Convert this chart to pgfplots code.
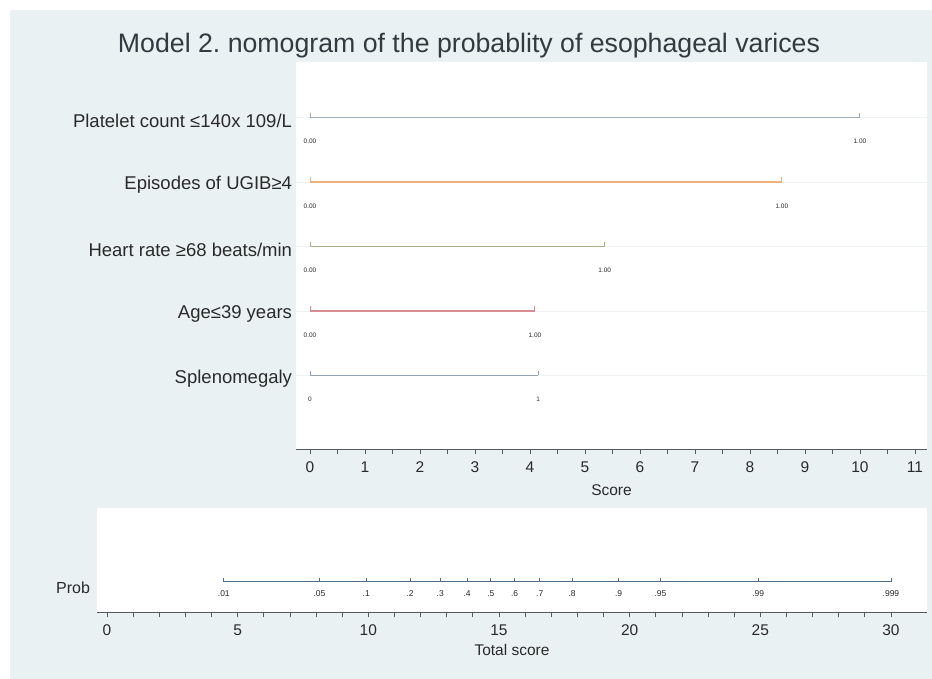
\documentclass[border=0pt]{standalone}
\usepackage{fontspec}
\setmainfont{Liberation Sans}
\usepackage{pgfplots}
\pgfplotsset{compat=1.18}
\frenchspacing
\definecolor{bg}{HTML}{EAF1F3}
\definecolor{titlec}{HTML}{333A40}
\definecolor{labc}{HTML}{2A2A2A}
\definecolor{axc}{HTML}{555A5E}
\definecolor{gridc}{HTML}{EEF2F4}
\definecolor{c1}{HTML}{9DAEBA}
\definecolor{c2}{HTML}{F2B07C}
\definecolor{c3}{HTML}{A7B087}
\definecolor{c4}{HTML}{D98A92}
\definecolor{c5}{HTML}{93A2B7}
\definecolor{probc}{HTML}{4F6E8C}
\pgfdeclareplotmark{uptick}{\pgfpathmoveto{\pgfpoint{0pt}{0pt}}\pgfpathlineto{\pgfpoint{0pt}{\pgfplotmarksize}}\pgfusepathqstroke}
\pgfplotsset{
  nomo/.style={line width=1.5bp, mark=uptick, mark size=4.5bp, mark options={line width=0.9bp, solid},
    nodes near coords, point meta=explicit symbolic,
    every node near coord/.append style={anchor=center, yshift=-24bp, font=\fontsize{6.5bp}{7bp}\selectfont, text=labc}},
}
\begin{document}
\begin{tikzpicture}
\fill[white] (0bp,0bp) rectangle (932bp,679bp);
\fill[bg] (10bp,0bp) rectangle (932bp,669bp);
\node[font=\fontsize{26.7bp}{30bp}\selectfont, text=titlec] at (469bp,633bp) {Model 2. nomogram of the probablity of esophageal varices};
\begin{axis}[at={(296bp,230bp)}, anchor=south west, scale only axis, width=631bp, height=387bp,
  xmin=-0.255, xmax=11.22, ymin=-0.14, ymax=5.86,
  axis background/.style={fill=white},
  separate axis lines, axis x line=bottom, axis y line=left,
  x axis line style={-, draw=axc, line width=0.8bp}, y axis line style={draw=none},
  xtick={0,...,11}, minor x tick num=1, xtick align=outside,
  major tick length=5bp, minor tick length=5bp,
  xtick style={draw=axc, line width=0.7bp},
  ytick={1,...,5},
  yticklabels={Splenomegaly, Age≤39 years, Heart rate ≥68 beats/min, Episodes of UGIB≥4, Platelet count ≤140x 109/L},
  ytick style={draw=none}, ymajorgrids, grid style={gridc, line width=0.6bp},
  yticklabel style={font=\fontsize{18.5bp}{21bp}\selectfont, text=labc, yshift=-3bp, xshift=2bp},
  xticklabel style={font=\fontsize{15.5bp}{18bp}\selectfont, text=labc, yshift=-4bp},
  xlabel={Score}, xlabel style={font=\fontsize{15.5bp}{18bp}\selectfont, text=labc, at={(axis description cs:0.5,0)}, anchor=center, yshift=-41bp},
  /pgf/number format/assume math mode=true,
  clip=false]
\addplot[nomo, color=c1] coordinates {(0,5) [0.00] (10,5) [1.00]};
\addplot[nomo, color=c2] coordinates {(0,4) [0.00] (8.58,4) [1.00]};
\addplot[nomo, color=c3] coordinates {(0,3) [0.00] (5.36,3) [1.00]};
\addplot[nomo, color=c4] coordinates {(0,2) [0.00] (4.09,2) [1.00]};
\addplot[nomo, color=c5] coordinates {(0,1) [0] (4.15,1) [1]};
\end{axis}
\begin{axis}[at={(97bp,67bp)}, anchor=south west, scale only axis, width=830bp, height=104bp,
  xmin=-0.383, xmax=31.38, ymin=0, ymax=1,
  axis background/.style={fill=white},
  separate axis lines, axis x line=bottom, axis y line=left,
  x axis line style={-, draw=axc, line width=0.8bp}, y axis line style={draw=none},
  xtick={0,5,...,30}, minor x tick num=4, xtick align=outside,
  major tick length=5bp, minor tick length=5bp,
  xtick style={draw=axc, line width=0.7bp},
  ytick={0.29}, yticklabels={Prob}, ytick style={draw=none},
  yticklabel style={font=\fontsize{16bp}{18bp}\selectfont, text=labc, yshift=-6bp, xshift=-1bp},
  xticklabel style={font=\fontsize{15.5bp}{18bp}\selectfont, text=labc, yshift=-4bp},
  xlabel={Total score}, xlabel style={font=\fontsize{15.5bp}{18bp}\selectfont, text=labc, at={(axis description cs:0.5,0)}, anchor=center, yshift=-38bp},
  /pgf/number format/assume math mode=true,
  clip=false]
\addplot[nomo, color=probc, line width=1.1bp, mark size=3.5bp, every node near coord/.append style={yshift=12bp, font=\fontsize{8.5bp}{9bp}\selectfont}] coordinates {
 (4.47,0.29) [.01] (8.13,0.29) [.05] (9.92,0.29) [.1] (11.6,0.29) [.2] (12.75,0.29) [.3]
 (13.78,0.29) [.4] (14.69,0.29) [.5] (15.6,0.29) [.6] (16.56,0.29) [.7] (17.8,0.29) [.8]
 (19.58,0.29) [.9] (21.18,0.29) [.95] (24.92,0.29) [.99] (30.0,0.29) [.999]};
\end{axis}
\end{tikzpicture}
\end{document}
